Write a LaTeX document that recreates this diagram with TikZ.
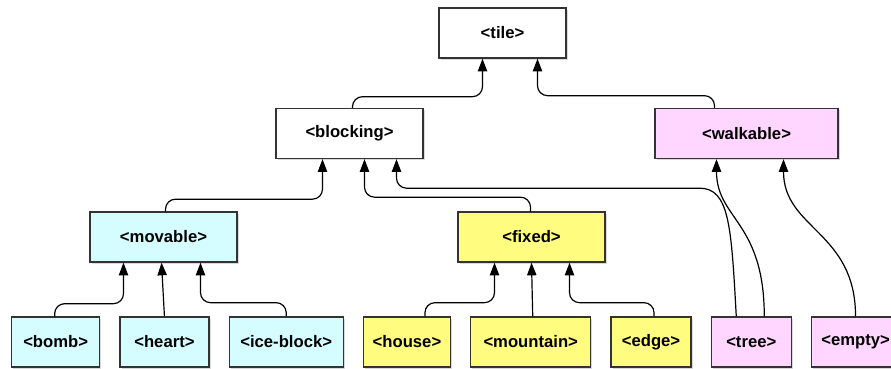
\documentclass[tikz,border=0pt]{standalone}
\usepackage{fontspec}
\setmainfont{Liberation Sans}
\usepackage{tikz}
\usetikzlibrary{arrows.meta,positioning,shadows}

\definecolor{moveblue}{HTML}{D5FCFF}
\definecolor{fixyellow}{HTML}{FFFC80}
\definecolor{walkpink}{HTML}{FFD6FF}
\definecolor{boxline}{HTML}{333333}

\begin{document}
\begin{tikzpicture}[
    x=0.75pt, y=-0.75pt,
    node distance=14.2pt,
    box/.style={rectangle, draw=boxline, line width=1pt, fill=white, align=center, minimum height=37.5pt, inner xsep=4pt, font=\fontsize{12.5}{15}\selectfont\bfseries, drop shadow={shadow xshift=1.2pt, shadow yshift=-1.2pt, opacity=0.3}},
    movebox/.style={box, fill=moveblue},
    fixbox/.style={box, fill=fixyellow},
    walkbox/.style={box, fill=walkpink},
    link/.style={-{Triangle[length=9.5pt,width=7pt]}, line width=0.9pt, rounded corners=7.5pt}
]
\useasboundingbox (0,0) rectangle (891,368);

% upper levels
\node[box, minimum width=95.25pt] (tile) at (502.5,33) {<tile>};
\node[box, minimum width=110.25pt] (blocking) at (349.5,133.5) {<blocking>};
\node[walkbox, minimum width=137.25pt] (walkable) at (746.5,133.5) {<walkable>};
\node[movebox, minimum width=110.25pt] (movable) at (163.5,237) {<movable>};
\node[fixbox, minimum width=110.25pt] (fixed) at (531.5,237) {<fixed>};

% leaves
\node[movebox, minimum width=66pt, anchor=west] (bomb) at (11,342) {<bomb>};
\node[movebox, minimum width=66.75pt, right=of bomb] (heart) {<heart>};
\node[movebox, minimum width=85.5pt, right=of heart] (iceblock) {<ice-block>};
\node[fixbox, minimum width=65.25pt, right=of iceblock] (house) {<house>};
\node[fixbox, minimum width=90pt, right=of house] (mountain) {<mountain>};
\node[fixbox, minimum width=60pt, right=of mountain] (edge) {<edge>};
\node[walkbox, minimum width=60pt, right=of edge] (tree) {<tree>};
\node[walkbox, minimum width=66pt, right=of tree] (empty) {<empty>};

% connectors
\draw[link] ([shift={(3,0)}]blocking.north) |- ([shift={(-20,38)}]tile.south) -- ([shift={(-20,0)}]tile.south);
\draw[link] ([shift={(-32,0)}]walkable.north) |- ([shift={(35,37)}]tile.south) -- ([shift={(35,0)}]tile.south);

\draw[link] ([shift={(2,0)}]movable.north) |- ([shift={(-27,40)}]blocking.south) -- ([shift={(-27,0)}]blocking.south);
\draw[link] ([shift={(-1,0)}]fixed.north) |- ([shift={(15,38)}]blocking.south) -- ([shift={(15,0)}]blocking.south);
\draw[link] ([shift={(-15,0)}]tree.north) .. controls +(-5,-90) and +(40,0) .. ([shift={(340,29)}]blocking.south) -- ([shift={(47,29)}]blocking.south) -- ([shift={(47,0)}]blocking.south);
\draw[link] ([shift={(13,0)}]tree.north) .. controls +(0,-95) and +(0,60) .. ([shift={(-30,0)}]walkable.south);
\draw[link] (empty.north) .. controls +(0,-85) and +(0,70) .. ([shift={(37,0)}]walkable.south);

\draw[link] ([shift={(-1,0)}]bomb.north) |- ([shift={(-40,41)}]movable.south) -- ([shift={(-40,0)}]movable.south);
\draw[link] (heart.north) -- ([shift={(-2,0)}]movable.south);
\draw[link] (iceblock.north) |- ([shift={(37,40)}]movable.south) -- ([shift={(37,0)}]movable.south);

\draw[link] ([shift={(18,0)}]house.north) |- ([shift={(-37,40)}]fixed.south) -- ([shift={(-37,0)}]fixed.south);
\draw[link] ([shift={(2,0)}]mountain.north) -- (fixed.south);
\draw[link] ([shift={(3,0)}]edge.north) |- ([shift={(38,40)}]fixed.south) -- ([shift={(38,0)}]fixed.south);
\end{tikzpicture}
\end{document}
